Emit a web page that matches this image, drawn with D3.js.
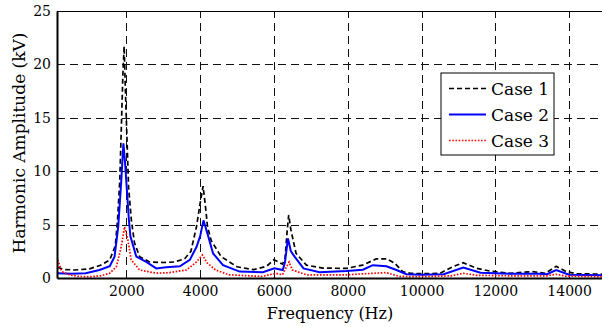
<!DOCTYPE html>
<html>
<head>
<meta charset="utf-8">
<script src="https://cdn.jsdelivr.net/npm/d3@7"></script>
<style>
  body { margin: 0; background: #fff; }
</style>
</head>
<body>
<div id="chart"></div>
<script>
// frequency (Hz), amplitude (kV)
var case1 = [[137,1.0],[300,0.8],[600,0.75],[1000,0.85],[1300,1.2],[1550,1.7],[1700,3.0],[1760,5.4],[1820,9],[1870,14.8],[1905,19],[1940,21.7],[1970,18],[2000,14.8],[2060,8.5],[2136,5.4],[2220,3.3],[2360,2.0],[2630,1.5],[3000,1.45],[3300,1.5],[3580,1.8],[3750,2.5],[3900,4.8],[4000,7.0],[4080,8.6],[4150,6.5],[4200,4.8],[4300,3.5],[4570,2.0],[5000,1.05],[5450,0.78],[5800,1.1],[6000,1.7],[6120,1.5],[6230,1.3],[6300,1.8],[6360,4.5],[6400,5.9],[6460,4.5],[6600,2.3],[6880,1.2],[7320,0.93],[7960,0.9],[8400,1.2],[8780,1.8],[9050,1.8],[9270,1.4],[9490,0.6],[9680,0.45],[10000,0.4],[10500,0.44],[10850,1.06],[11130,1.43],[11500,0.9],[11850,0.65],[12400,0.44],[13000,0.6],[13360,0.44],[13650,1.1],[13920,0.6],[14200,0.4],[15000,0.35]];
var case2 = [[137,0.44],[500,0.4],[900,0.45],[1270,0.75],[1550,1.1],[1680,2.0],[1780,4.8],[1860,9],[1920,12.6],[1960,11],[2070,5.4],[2110,3.9],[2270,2.0],[2540,1.5],[2810,0.9],[3080,1.0],[3450,1.1],[3720,1.7],[3900,2.9],[4000,3.9],[4090,5.4],[4220,3.9],[4350,2.3],[4620,1.2],[5070,0.6],[5700,0.55],[6010,0.9],[6240,0.75],[6300,1.5],[6380,3.7],[6460,2.5],[6560,2.0],[6800,0.9],[7240,0.55],[7960,0.65],[8410,0.78],[8680,1.2],[9050,1.1],[9320,0.75],[9590,0.35],[10000,0.3],[10600,0.35],[11130,0.97],[11600,0.5],[12400,0.4],[13200,0.4],[13400,0.35],[13650,0.75],[14000,0.3],[15000,0.25]];
var case3 = [[137,1.7],[250,0.6],[450,0.3],[700,0.15],[1000,0.12],[1300,0.2],[1550,0.45],[1730,1.06],[1860,2.9],[1950,4.8],[2040,3.6],[2130,1.7],[2360,0.75],[2810,0.45],[3170,0.5],[3630,0.75],[3900,1.5],[4060,2.15],[4190,1.4],[4420,0.75],[4780,0.3],[5680,0.15],[6050,0.44],[6230,0.3],[6410,1.5],[6500,0.75],[6880,0.3],[7960,0.3],[8680,0.44],[9040,0.5],[9400,0.15],[10000,0.12],[10800,0.2],[11130,0.44],[11500,0.25],[12500,0.2],[13400,0.2],[13650,0.35],[13900,0.18],[15000,0.12]];

var xTicks = [2000, 4000, 6000, 8000, 10000, 12000, 14000];
var yTicks = [0, 5, 10, 15, 20, 25];
var seriesNames = ["Case 1", "Case 2", "Case 3"];

var width = 602, height = 327;
var margin = {left: 57, top: 11, right: -4, bottom: 49};
var serif = "DejaVu Serif";

var svg = d3.select("#chart").append("svg")
    .attr("width", width)
    .attr("height", height);

var x = d3.scaleLinear().domain([120, 15000]).range([margin.left, width - margin.right]);
var y = d3.scaleLinear().domain([0, 25]).range([height - margin.bottom, margin.top]);

svg.append("clipPath").attr("id", "clip")
  .append("rect")
    .attr("x", margin.left).attr("y", margin.top)
    .attr("width", width - margin.right - margin.left)
    .attr("height", height - margin.bottom - margin.top);

// grid
var grid = svg.append("g").attr("stroke", "#111").attr("stroke-width", 1).attr("stroke-dasharray", "8,5");
grid.selectAll(".gx").data(xTicks).enter().append("line")
    .attr("x1", d => Math.round(x(d)) + 0.5).attr("x2", d => Math.round(x(d)) + 0.5)
    .attr("y1", y(0)).attr("y2", y(25));
grid.selectAll(".gy").data(yTicks.slice(1, -1)).enter().append("line")
    .attr("y1", d => Math.round(y(d)) + 0.5).attr("y2", d => Math.round(y(d)) + 0.5)
    .attr("x1", x.range()[0]).attr("x2", x.range()[1]);

// curves
var line = d3.line().x(d => x(d[0])).y(d => y(d[1]));
var styles = [
  {data: case1, color: "#000", w: 1.7, dash: "5,3"},
  {data: case2, color: "#0000ff", w: 2, dash: null},
  {data: case3, color: "#ff0000", w: 1.7, dash: "1.6,1.6"}
];
var curves = svg.append("g").attr("clip-path", "url(#clip)");
styles.forEach(function (s) {
  curves.append("path")
    .datum(s.data)
    .attr("d", line)
    .attr("fill", "none")
    .attr("stroke", s.color)
    .attr("stroke-width", s.w)
    .attr("stroke-dasharray", s.dash);
});

// axes
var xAxis = svg.append("g").attr("transform", "translate(0," + y(0) + ")")
  .call(d3.axisBottom(x).tickValues(xTicks).tickSize(0).tickPadding(8).tickFormat(d3.format("d")));
var yAxis = svg.append("g").attr("transform", "translate(" + margin.left + ",0)")
  .call(d3.axisLeft(y).tickValues(yTicks).tickSize(0).tickPadding(6));
[xAxis, yAxis].forEach(function (a) {
  a.attr("font-family", serif).attr("font-size", 14);
  a.selectAll("text").attr("fill", "#000");
  a.select(".domain").attr("stroke", "#000").attr("stroke-width", 2);
});

// top frame
svg.append("line")
    .attr("x1", margin.left).attr("x2", width)
    .attr("y1", margin.top + 0.5).attr("y2", margin.top + 0.5)
    .attr("stroke", "#000").attr("stroke-width", 1.2);

// axis labels
svg.append("text")
    .attr("x", 330)
    .attr("y", 319)
    .attr("text-anchor", "middle")
    .attr("font-family", serif)
    .attr("font-size", 16)
    .text("Frequency (Hz)");
svg.append("text")
    .attr("transform", "translate(25," + 143 + ") rotate(-90)")
    .attr("text-anchor", "middle")
    .attr("font-family", serif)
    .attr("font-size", 17)
    .text("Harmonic Amplitude (kV)");

// legend
var legend = svg.append("g").attr("transform", "translate(441,73)");
legend.append("rect")
    .attr("width", 113).attr("height", 82)
    .attr("fill", "#fff").attr("stroke", "#000").attr("stroke-width", 1);
var entries = legend.selectAll(".entry").data(seriesNames).enter().append("g")
    .attr("transform", (d, i) => "translate(0," + (15.5 + i * 26) + ")");
entries.append("line")
    .attr("x1", 8).attr("x2", 45).attr("y1", 0).attr("y2", 0)
    .attr("stroke", (d, i) => styles[i].color)
    .attr("stroke-width", (d, i) => styles[i].w)
    .attr("stroke-dasharray", (d, i) => styles[i].dash);
entries.append("text")
    .attr("x", 50).attr("y", 6)
    .attr("font-family", serif)
    .attr("font-size", 17)
    .text(d => d);
</script>
</body>
</html>
